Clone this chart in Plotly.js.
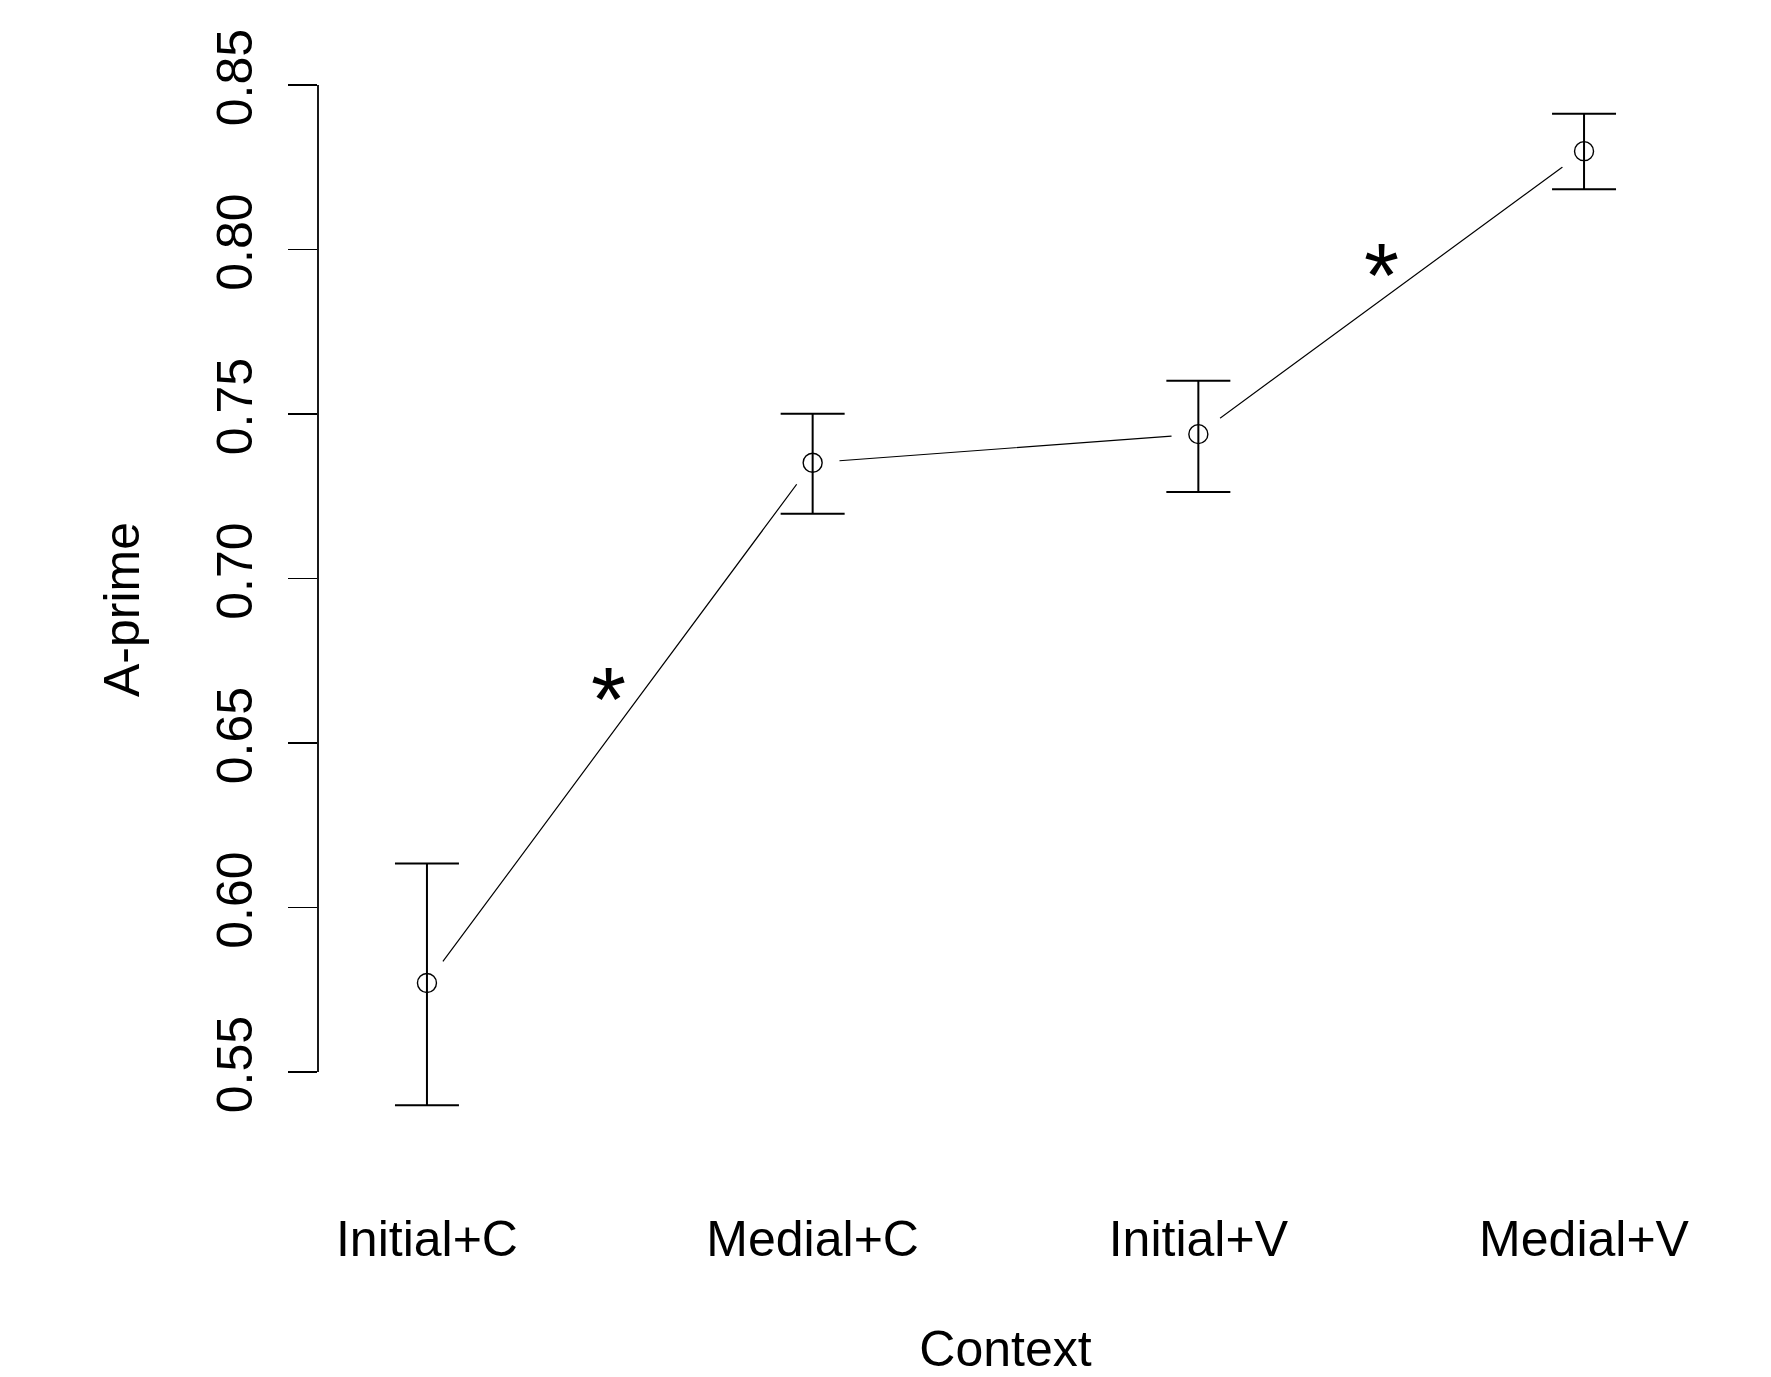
<!DOCTYPE html>
<html>
<head>
<meta charset="utf-8">
<script src="https://cdn.plot.ly/plotly-3.0.1.min.js"></script>
<style>html,body{margin:0;padding:0;background:#fff;}#chart{width:1771px;height:1377px;}</style>
</head>
<body>
<div id="chart"></div>
<script>
// Data
const categories = ["Initial+C", "Medial+C", "Initial+V", "Medial+V"];
const meanAprime = [0.5771, 0.7352, 0.7439, 0.8299];
const upperAprime = [0.6134, 0.7501, 0.7601, 0.8413];
const lowerAprime = [0.5399, 0.7197, 0.7263, 0.8183];
const yTickVals = [0.55, 0.60, 0.65, 0.70, 0.75, 0.80, 0.85];
const yTickText = ["0.55", "0.60", "0.65", "0.70", "0.75", "0.80", "0.85"];
// significance markers (position between categories, height)
const sigX = [0.470, 2.476];
const sigY = [0.6682, 0.7972];
const sigText = ["*", "*"];

const errPlus = meanAprime.map((m, i) => upperAprime[i] - m);
const errMinus = meanAprime.map((m, i) => m - lowerAprime[i]);

const FONT = "Liberation Sans, Arial, Helvetica, sans-serif";

const traces = [
  {
    x: categories, y: meanAprime, type: "scatter", mode: "lines",
    line: {color: "#000", width: 1.2}, hoverinfo: "skip", showlegend: false
  },
  {
    x: categories, y: meanAprime, type: "scatter", mode: "markers",
    marker: {symbol: "circle", size: 54, color: "#fff", line: {width: 0}},
    hoverinfo: "skip", showlegend: false
  },
  {
    x: categories, y: meanAprime, type: "scatter", mode: "markers",
    marker: {symbol: "circle-open", size: 19, color: "#000", line: {color: "#000", width: 1.4}},
    error_y: {type: "data", symmetric: false, array: errPlus, arrayminus: errMinus,
              color: "#000", thickness: 2, width: 32},
    showlegend: false
  }
];

const yMin = Math.min(...lowerAprime), yMax = Math.max(...upperAprime);
const pad = (yMax - yMin) * 0.04;

const layout = {
  width: 1771, height: 1377,
  margin: {l: 318, r: 78, t: 74, b: 232, pad: 0},
  paper_bgcolor: "#fff", plot_bgcolor: "#fff",
  font: {family: FONT, size: 50, color: "#000"},
  showlegend: false,
  xaxis: {
    type: "category", range: [-0.2825, 3.2825],
    showline: false, showgrid: false, zeroline: false, ticks: "",
    tickfont: {size: 50, family: FONT, color: "#000"},
    ticklabelstandoff: 60,
    title: {text: "Context", font: {size: 50, family: FONT, color: "#000"}, standoff: 78}
  },
  yaxis: {
    range: [yMin - pad, yMax + pad],
    showline: false, showgrid: false, zeroline: false,
    ticks: "outside", ticklen: 29, tickwidth: 1.8, tickcolor: "#000",
    tickvals: yTickVals, ticktext: yTickText, tickangle: -90,
    tickfont: {size: 50, family: FONT, color: "#000"},
    ticklabelstandoff: 16,
    title: {text: "A-prime", font: {size: 50, family: FONT, color: "#000"}, standoff: 51}
  },
  shapes: [{
    type: "line", xref: "paper", x0: 0, x1: 0, yref: "y",
    y0: Math.min(...yTickVals), y1: Math.max(...yTickVals),
    line: {color: "#000", width: 1.8}
  }],
  annotations: sigX.map((x, i) => ({
    x: x, y: sigY[i], xref: "x", yref: "y", text: sigText[i],
    showarrow: false, font: {size: 90, family: FONT, color: "#000"},
    xanchor: "center", yanchor: "middle", yshift: -17
  }))
};

Plotly.newPlot("chart", traces, layout, {staticPlot: true, displayModeBar: false});
</script>
</body>
</html>
